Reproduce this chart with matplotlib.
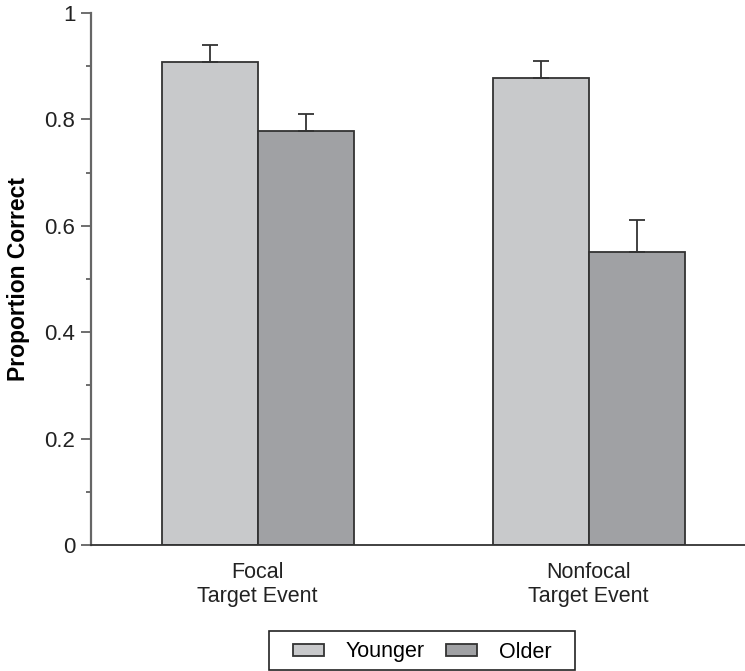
import numpy as np
import matplotlib.pyplot as plt
from matplotlib.patches import Rectangle
from matplotlib.ticker import MultipleLocator

plt.rcParams['font.family'] = ['Liberation Sans', 'DejaVu Sans']

# proportion correct by target event and age group
categories = ['Focal\nTarget Event', 'Nonfocal\nTarget Event']
younger = [0.908, 0.877]
older = [0.779, 0.551]
younger_err = [0.031, 0.032]
older_err = [0.032, 0.060]

YOUNG_COL = '#c8c9cb'
OLD_COL = '#a0a1a4'
EDGE = '#333333'

W, H = 745, 671


def main():
    fig = plt.figure(figsize=(W / 100, H / 100), dpi=100)
    ax = fig.add_axes([0.1217, 0.1878, 0.8783, 0.7928])

    x = np.array([0.0, 3.45])
    w = 1.0
    err_kw = dict(ecolor=EDGE, elinewidth=1.3, capsize=6, capthick=1.3)

    ax.bar(x - w / 2, younger, w, color=YOUNG_COL, edgecolor=EDGE, linewidth=1.3,
           yerr=[np.zeros(2), younger_err], error_kw=err_kw, label='Younger', zorder=2)
    ax.bar(x + w / 2, older, w, color=OLD_COL, edgecolor=EDGE, linewidth=1.3,
           yerr=[np.zeros(2), older_err], error_kw=err_kw, label='Older', zorder=2)

    ax.set_xlim(-1.74, 5.08)
    ax.set_ylim(0, 1)
    ax.set_xticks(x)
    ax.set_xticklabels(categories, fontsize=15.5, linespacing=1.2)
    ax.tick_params(axis='x', length=0, pad=12, colors='#222222')

    ax.set_yticks([0, 0.2, 0.4, 0.6, 0.8, 1.0])
    ax.yaxis.set_minor_locator(MultipleLocator(0.1))
    ax.set_yticklabels(['0', '0.2', '0.4', '0.6', '0.8', '1'], fontsize=16, color='#222222')
    ax.tick_params(axis='y', which='major', length=7, width=1.2, color='#555555', pad=4)
    ax.tick_params(axis='y', which='minor', length=3.5, width=1.2, color='#555555')

    ax.set_ylabel('Proportion Correct', fontsize=16.5, fontweight='bold')
    ax.yaxis.set_label_coords(-0.093, 0.5)

    for side in ('top', 'right'):
        ax.spines[side].set_visible(False)
    ax.spines['left'].set_color('#666666')
    ax.spines['left'].set_linewidth(1.6)
    ax.spines['bottom'].set_color('#333333')
    ax.spines['bottom'].set_linewidth(1.3)

    # legend entries without frame, boxed separately so the side padding is wider
    ax.legend(loc='center', bbox_to_anchor=(422 / W, 1 - 652 / H),
              bbox_transform=fig.transFigure, ncol=2, fontsize=15.5,
              frameon=False, handlelength=1.45, handleheight=0.45,
              handletextpad=1.0, columnspacing=1.0, borderpad=0.0)
    fig.patches.append(Rectangle((269 / W, 1 - 670 / H), 306 / W, 39 / H,
                                 transform=fig.transFigure, fill=False,
                                 edgecolor='#222222', linewidth=1.2))

    fig.savefig('out.png', dpi=100)


if __name__ == '__main__':
    main()
